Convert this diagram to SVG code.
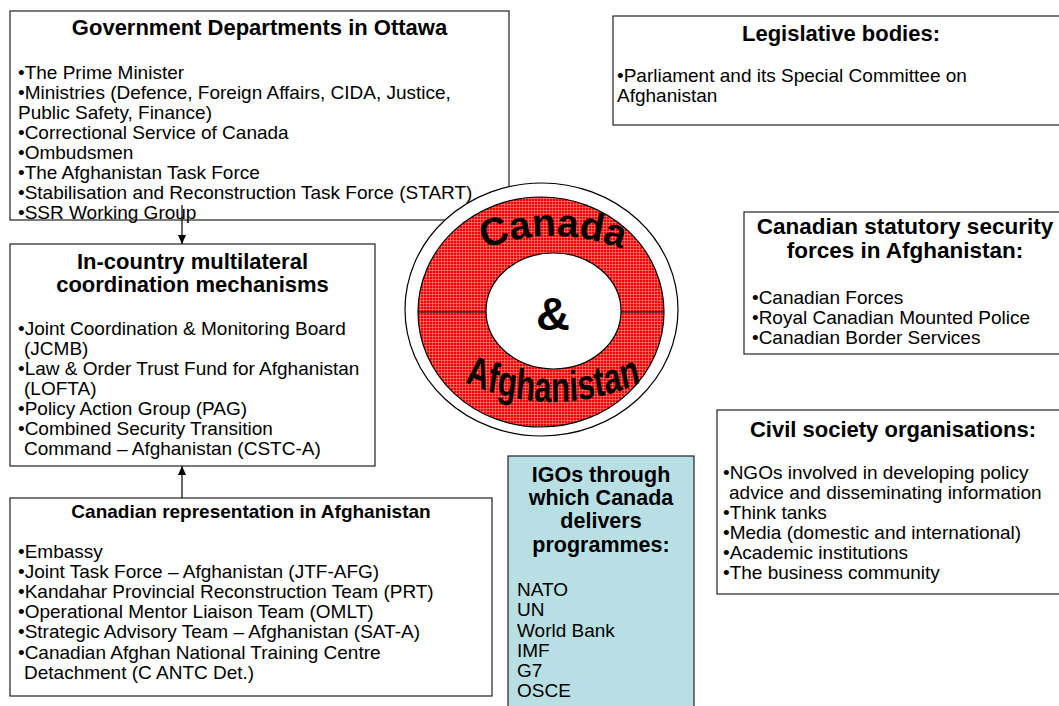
<svg xmlns="http://www.w3.org/2000/svg" width="1059" height="706" viewBox="0 0 1059 706">
<style>
text{font-family:"Liberation Sans",Arial,sans-serif;fill:#000}
.t{font-size:22px;font-weight:bold;text-anchor:middle}
.b{font-size:19px}
.box{fill:#fff;stroke:#222;stroke-width:1.2}
.ln{stroke:#000;stroke-width:1.2;fill:none}
</style>
<defs>
<pattern id="grid" width="3" height="3" patternUnits="userSpaceOnUse">
<rect width="3" height="3" fill="#f80000"/>
<rect x="0" y="0" width="3" height="0.6" fill="#ff8a8a"/>
<rect x="0" y="0" width="0.6" height="3" fill="#ff8a8a"/>
</pattern>
<marker id="ah" markerWidth="10" markerHeight="10" refX="9" refY="5" orient="auto" markerUnits="userSpaceOnUse">
<path d="M0,1 L9,5 L0,9 Z" fill="#000"/>
</marker>
<path id="arcTop" d="M 463 258 Q 553 214 643 258"/>
<path id="arcBot" d="M 413 376 Q 553 428 693 376"/>
</defs>

<g id="gov">
<rect class="box" x="10" y="11" width="499" height="209"/>
<text class="t" x="259.5" y="35">Government Departments in Ottawa</text>
<text class="b" x="18" y="79">•The Prime Minister</text>
<text class="b" x="18" y="99">•Ministries (Defence, Foreign Affairs, CIDA, Justice,</text>
<text class="b" x="18" y="119">Public Safety, Finance)</text>
<text class="b" x="18" y="139">•Correctional Service of Canada</text>
<text class="b" x="18" y="159">•Ombudsmen</text>
<text class="b" x="18" y="179">•The Afghanistan Task Force</text>
<text class="b" x="18" y="199">•Stabilisation and Reconstruction Task Force (START)</text>
<text class="b" x="18" y="219">•SSR Working Group</text>
</g>

<g id="legislative">
<rect class="box" x="613" y="16" width="455" height="109"/>
<text class="t" x="841" y="41">Legislative bodies:</text>
<text class="b" x="617" y="82">•Parliament and its Special Committee on</text>
<text class="b" x="617" y="102">Afghanistan</text>
</g>

<g id="incountry">
<rect class="box" x="10" y="244" width="365" height="222"/>
<text class="t" x="192.5" y="269">In-country multilateral</text>
<text class="t" x="192.5" y="292">coordination mechanisms</text>
<text class="b" x="18" y="335">•Joint Coordination &amp; Monitoring Board</text>
<text class="b" x="24" y="355">(JCMB)</text>
<text class="b" x="18" y="375">•Law &amp; Order Trust Fund for Afghanistan</text>
<text class="b" x="24" y="395">(LOFTA)</text>
<text class="b" x="18" y="415">•Policy Action Group (PAG)</text>
<text class="b" x="18" y="435">•Combined Security Transition</text>
<text class="b" x="24" y="455">Command – Afghanistan (CSTC-A)</text>
</g>

<g id="canrep">
<rect class="box" x="10" y="498" width="482" height="198"/>
<text class="t" x="251" y="518" style="font-size:19px">Canadian representation in Afghanistan</text>
<text class="b" x="18" y="558">•Embassy</text>
<text class="b" x="18" y="578">•Joint Task Force – Afghanistan (JTF-AFG)</text>
<text class="b" x="18" y="598">•Kandahar Provincial Reconstruction Team (PRT)</text>
<text class="b" x="18" y="618">•Operational Mentor Liaison Team (OMLT)</text>
<text class="b" x="18" y="638">•Strategic Advisory Team – Afghanistan (SAT-A)</text>
<text class="b" x="18" y="659">•Canadian Afghan National Training Centre</text>
<text class="b" x="24" y="679">Detachment (C ANTC Det.)</text>
</g>

<g id="statutory">
<rect class="box" x="744" y="212" width="324" height="142"/>
<text class="t" x="905" y="234" style="font-size:22.5px">Canadian statutory security</text>
<text class="t" x="905" y="258" style="font-size:22.5px">forces in Afghanistan:</text>
<text class="b" x="752" y="304">•Canadian Forces</text>
<text class="b" x="752" y="324">•Royal Canadian Mounted Police</text>
<text class="b" x="752" y="344">•Canadian Border Services</text>
</g>

<g id="civil">
<rect class="box" x="717" y="410" width="351" height="184"/>
<text class="t" x="893" y="437">Civil society organisations:</text>
<text class="b" x="723" y="479">•NGOs involved in developing policy</text>
<text class="b" x="729" y="499">advice and disseminating information</text>
<text class="b" x="723" y="519">•Think tanks</text>
<text class="b" x="723" y="539">•Media (domestic and international)</text>
<text class="b" x="723" y="559">•Academic institutions</text>
<text class="b" x="723" y="579">•The business community</text>
</g>

<g id="igo">
<rect x="508" y="456" width="186" height="260" fill="#b8dfe3" stroke="#222" stroke-width="1.2"/>
<text class="t" x="601" y="482" style="font-size:21.5px">IGOs through</text>
<text class="t" x="601" y="505" style="font-size:21.5px">which Canada</text>
<text class="t" x="601" y="528" style="font-size:21.5px">delivers</text>
<text class="t" x="601" y="552" style="font-size:21.5px">programmes:</text>
<text class="b" x="517" y="596">NATO</text>
<text class="b" x="517" y="616">UN</text>
<text class="b" x="517" y="637">World Bank</text>
<text class="b" x="517" y="657">IMF</text>
<text class="b" x="517" y="677">G7</text>
<text class="b" x="517" y="697">OSCE</text>
</g>

<g id="center">
<ellipse cx="541.5" cy="309.5" rx="136.5" ry="126.5" fill="#fff" stroke="#000" stroke-width="1.2"/>
<ellipse cx="541" cy="312" rx="123" ry="115" fill="url(#grid)" stroke="#000" stroke-width="1.2"/>
<line class="ln" x1="418" y1="312" x2="487" y2="312"/>
<line class="ln" x1="620" y1="312" x2="664" y2="312"/>
<ellipse cx="553.5" cy="311" rx="67.5" ry="58" fill="#fff" stroke="#000" stroke-width="1.2"/>
<text x="553" y="330" style="font-size:47px;font-weight:bold;text-anchor:middle">&amp;</text>
<text style="font-size:39px;font-weight:bold"><textPath href="#arcTop" startOffset="50%" text-anchor="middle">Canada</textPath></text>
<text style="font-size:43px;font-weight:bold" transform="translate(553,0) scale(0.72,1) translate(-553,0)"><textPath href="#arcBot" startOffset="50%" text-anchor="middle">Afghanistan</textPath></text>
</g>

<g id="connectors">
<line class="ln" x1="182" y1="205" x2="182" y2="244" marker-end="url(#ah)"/>
<line class="ln" x1="182" y1="498" x2="182" y2="466" marker-end="url(#ah)"/>
</g>
</svg>
